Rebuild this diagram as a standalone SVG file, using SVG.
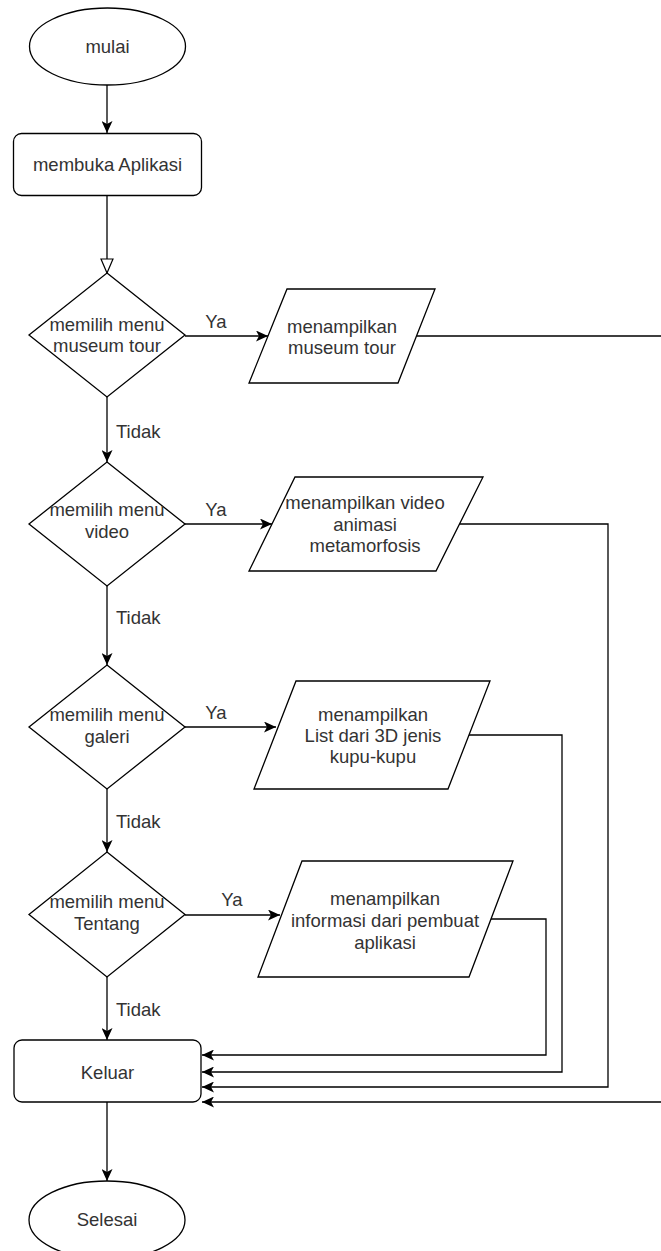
<svg xmlns="http://www.w3.org/2000/svg" width="661" height="1251" viewBox="0 0 661 1251">
<style>
.s{fill:#fff;stroke:#000;stroke-width:1.3}
.t{font-family:"Liberation Sans",Arial,sans-serif;font-size:18.5px;fill:#333;text-anchor:middle}
.l{text-anchor:start}
.c{fill:none;stroke:#000;stroke-width:1.3}
.a{marker-end:url(#arr)}
</style>
<defs>
<marker id="arr" viewBox="0 0 12 11" refX="12" refY="5.5" markerWidth="12" markerHeight="11" markerUnits="userSpaceOnUse" orient="auto">
<path d="M0,0 L12,5.5 L0,11 L3,5.5 z" fill="#000"/>
</marker>
<marker id="blk" viewBox="0 0 16 14" refX="15" refY="7" markerWidth="16" markerHeight="14" markerUnits="userSpaceOnUse" orient="auto">
<path d="M1,1 L15,7 L1,13 z" fill="#fff" stroke="#000" stroke-width="1.2"/>
</marker>
</defs>
<rect width="661" height="1251" fill="#fff"/>
<g id="connectors">
<path class="c a" d="M107,85 V133"/>
<path class="c" d="M107,195 V273" marker-end="url(#blk)"/>
<path class="c a" d="M185,336 H268"/>
<path class="c a" d="M107,397 V462"/>
<path class="c a" d="M185,524 H272"/>
<path class="c a" d="M107,586 V665"/>
<path class="c a" d="M185,727 H276"/>
<path class="c a" d="M107,789 V852"/>
<path class="c a" d="M185,915 H280"/>
<path class="c a" d="M107,977 V1040"/>
<path class="c a" d="M107,1102 V1181"/>
<path class="c a" d="M491,919 H546 V1055 H202"/>
<path class="c a" d="M468,735 H562 V1072 H202"/>
<path class="c a" d="M459,524 H608 V1087 H202"/>
<path class="c a" d="M417,336 H668 V1102 H202"/>
<text class="t" x="216" y="328">Ya</text>
<text class="t" x="216" y="516">Ya</text>
<text class="t" x="216" y="719">Ya</text>
<text class="t" x="232" y="906">Ya</text>
<text class="t l" x="116" y="438">Tidak</text>
<text class="t l" x="116" y="624">Tidak</text>
<text class="t l" x="116" y="828">Tidak</text>
<text class="t l" x="116" y="1016">Tidak</text>
</g>
<g id="mulai">
<ellipse class="s" cx="107.5" cy="46.5" rx="78" ry="38.5"/>
<text class="t" x="107.5" y="52.5">mulai</text>
</g>
<g id="buka">
<rect class="s" x="13.5" y="133.5" width="188" height="62" rx="8"/>
<text class="t" x="107.5" y="170.5">membuka Aplikasi</text>
</g>
<g id="d1">
<polygon class="s" points="107,273 185,335 107,397 29,335"/>
<text class="t" x="107" y="331">memilih menu</text>
<text class="t" x="107" y="352">museum tour</text>
</g>
<g id="p1">
<polygon class="s" points="287,289 435,289 398,383 249,383"/>
<text class="t" x="342" y="333">menampilkan</text>
<text class="t" x="342" y="354">museum tour</text>
</g>
<g id="d2">
<polygon class="s" points="107,462 185,524 107,586 29,524"/>
<text class="t" x="107" y="516">memilih menu</text>
<text class="t" x="107" y="538">video</text>
</g>
<g id="p2">
<polygon class="s" points="295,477 483,477 436,571 249,571"/>
<text class="t" x="365" y="509">menampilkan video</text>
<text class="t" x="365" y="531">animasi</text>
<text class="t" x="365" y="552">metamorfosis</text>
</g>
<g id="d3">
<polygon class="s" points="107,665 185,727 107,789 29,727"/>
<text class="t" x="107" y="721">memilih menu</text>
<text class="t" x="107" y="743">galeri</text>
</g>
<g id="p3">
<polygon class="s" points="296,681 490,681 448,789 254,789"/>
<text class="t" x="373" y="721">menampilkan</text>
<text class="t" x="373" y="742">List dari 3D jenis</text>
<text class="t" x="373" y="763">kupu-kupu</text>
</g>
<g id="d4">
<polygon class="s" points="107,852 185,914.5 107,977 29,914.5"/>
<text class="t" x="107" y="908">memilih menu</text>
<text class="t" x="107" y="930">Tentang</text>
</g>
<g id="p4">
<polygon class="s" points="302,861 513,861 469,977 258,977"/>
<text class="t" x="385" y="905">menampilkan</text>
<text class="t" x="385" y="927">informasi dari pembuat</text>
<text class="t" x="385" y="949">aplikasi</text>
</g>
<g id="keluar">
<rect class="s" x="14" y="1040" width="187" height="62" rx="8"/>
<text class="t" x="107.5" y="1079">Keluar</text>
</g>
<g id="selesai">
<ellipse class="s" cx="107" cy="1220" rx="78" ry="39"/>
<text class="t" x="107" y="1226">Selesai</text>
</g>
</svg>
